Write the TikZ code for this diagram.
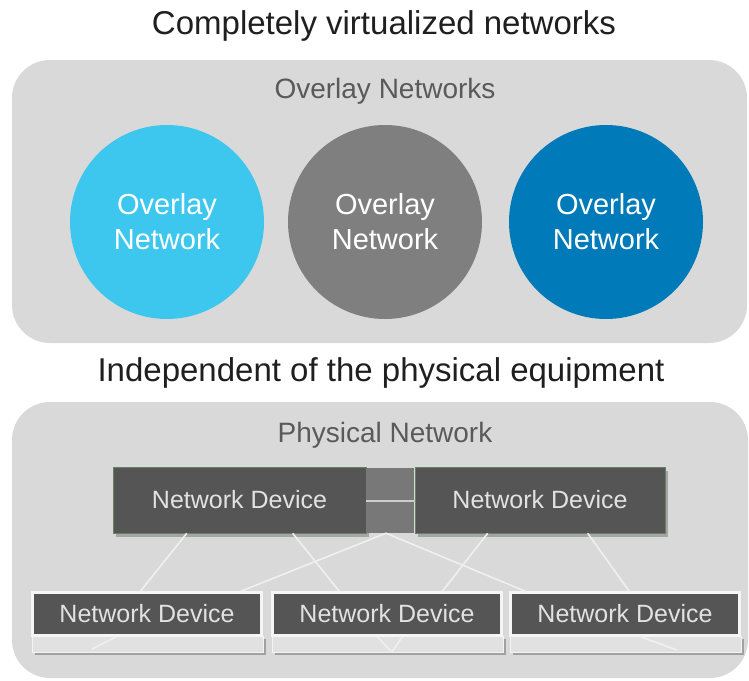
\documentclass[tikz,border=0pt]{standalone}
\usepackage{fontspec}
\setmainfont{Liberation Sans}
\usetikzlibrary{calc,shadows}
\definecolor{panelgray}{HTML}{D9D9D9}
\definecolor{skyblue}{HTML}{3DC7EF}
\definecolor{midgray}{HTML}{7F7F7F}
\definecolor{deepblue}{HTML}{007AB8}
\definecolor{devgray}{HTML}{555555}
\definecolor{linkgray}{HTML}{787878}
\definecolor{basegray}{HTML}{E1E1E1}
\definecolor{labelgray}{HTML}{5A5A5A}
\definecolor{devtext}{HTML}{E2E2E2}
\begin{document}
\begin{tikzpicture}[x=1pt,y=-1pt,
  heading/.style={inner sep=0pt, text=black!88, font=\fontsize{33}{40}\selectfont},
  paneltitle/.style={inner sep=0pt, text=labelgray, font=\fontsize{28}{34}\selectfont},
  panel/.style={fill=panelgray, rounded corners=38, inner sep=0pt},
  overlay/.style={circle, minimum size=194, inner sep=0pt, text=white, align=center,
    font=\fontsize{29}{35}\selectfont},
  topdev/.style={fill=devgray, draw=black!45!green!20!gray, line width=0.6, inner sep=0pt,
    minimum height=66, text=devtext, font=\fontsize{25}{30}\selectfont,
    drop shadow={shadow xshift=3pt, shadow yshift=-4pt, opacity=0.5, fill=black!55}},
  botdev/.style={fill=devgray, draw=white!96!black, line width=2.4, inner sep=0pt,
    minimum width=229, minimum height=43, text=devtext, font=\fontsize{25}{30}\selectfont},
  devbase/.style={fill=basegray, draw=white!60!basegray, line width=1, inner sep=0pt,
    minimum width=231, minimum height=16,
    drop shadow={shadow xshift=3pt, shadow yshift=-3pt, opacity=0.55, fill=black!55}},
  wire/.style={draw=white!94!black, line width=1.6},
]
\useasboundingbox (0,0) rectangle (749,680);
\fill[white] (0,0) rectangle (749,680);

% upper part: the virtual layer
\node[heading] (title) at (384,26) {Completely virtualized networks};
\node[panel, minimum width=735, minimum height=283] (overlaypanel) at (379.5,201.5) {};
\node[paneltitle] (overlaytitle) at (385,91) {Overlay Networks};
\node[overlay, fill=skyblue] (ov1) at (167,222) {Overlay\\Network};
\node[overlay, fill=midgray] (ov2) at (385,222) {Overlay\\Network};
\node[overlay, fill=deepblue] (ov3) at (606,222) {Overlay\\Network};

% lower part: the physical layer
\node[heading] (subtitle) at (381,373) {Independent of the physical equipment};
\node[panel, minimum width=736, minimum height=276] (physpanel) at (380,540) {};
\node[paneltitle] (phystitle) at (385,435) {Physical Network};

% bottom row: device bases, then the devices themselves
\node[devbase] (blb) at (147.5,644) {};
\node[devbase] (bmb) at (387.5,644) {};
\node[devbase] (brb) at (625.5,644) {};
\node[botdev] (bl) at (147,614) {Network Device};
\node[botdev] (bm) at (387,614) {Network Device};
\node[botdev] (br) at (625,614) {Network Device};

% core pair joined by a link block
\node[topdev, minimum width=253] (tl) at (239.5,500) {Network Device};
\node[topdev, minimum width=250] (tr) at (540,500) {Network Device};
\node[fill=linkgray, inner sep=0pt, minimum width=48, minimum height=65] (link) at (390,500.5) {};
\draw[draw=white!80!black, line width=2] (tl.east |- link.center) -- (tr.west |- link.center);

% uplinks
\draw[wire] ($(tl.south west)+(74,0)$) -- ($(bl.north west)+(109,0)$);
\draw[wire] ($(tl.south west)+(180,0)$) -- ($(bm.north west)+(68,0)$);
\draw[wire] ($(link.south)+(-4,0)$) -- ($(bl.north east)+(-22,0)$);
\draw[wire] ($(link.south)+(-4,0)$) -- ($(br.north west)+(16,0)$);
\draw[wire] ($(tr.south west)+(73,0)$) -- ($(bm.north west)+(171,0)$);
\draw[wire] ($(tr.south west)+(173,0)$) -- ($(br.north west)+(120,0)$);

% short links fading below the bottom row
\coordinate (blend) at (92,649);
\coordinate (bmend) at (392,652);
\coordinate (brend) at (677,650);
\draw[wire] ($(bl.south west)+(85,0)$) -- (blend);
\draw[wire] ($(bm.south west)+(106,0)$) -- (bmend) -- ($(bm.south west)+(131,0)$);
\draw[wire] ($(br.south west)+(131,0)$) -- (brend);
\end{tikzpicture}
\end{document}
